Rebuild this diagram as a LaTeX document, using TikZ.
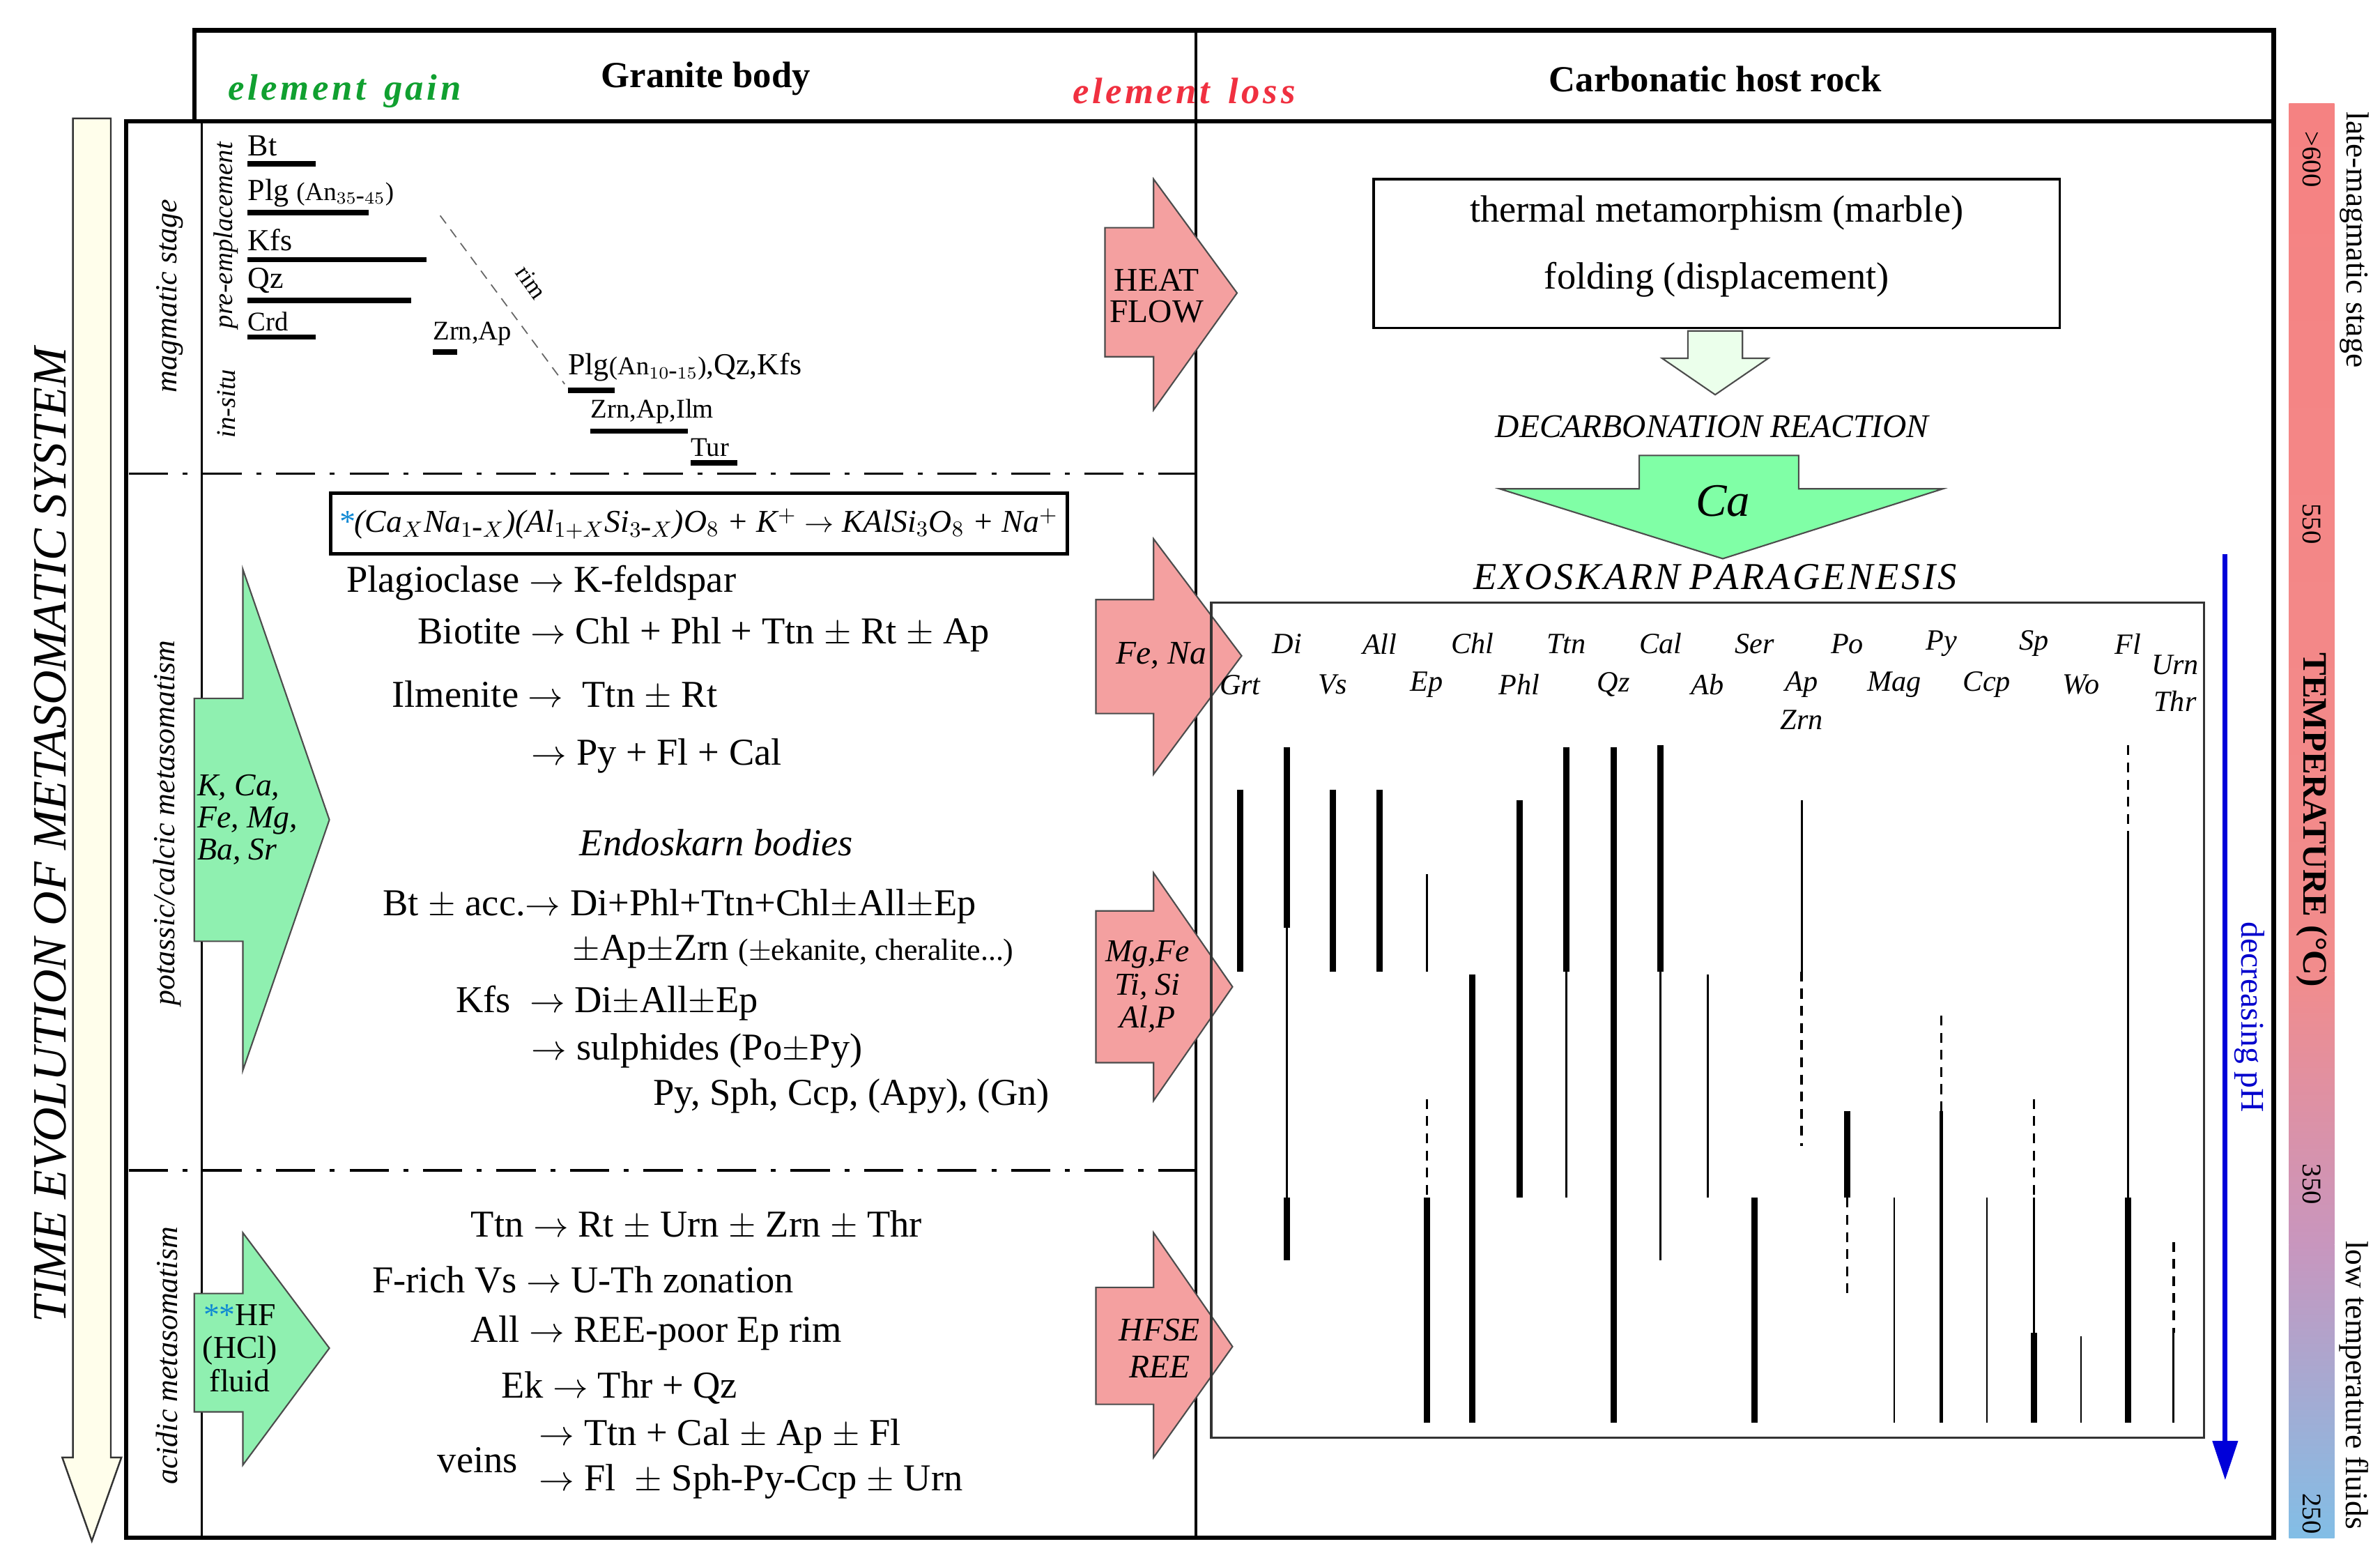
\documentclass[tikz,border=0pt]{standalone}
\usepackage{fontspec}
\setmainfont{Liberation Serif}
\usetikzlibrary{arrows.meta}
\definecolor{pinkf}{HTML}{F4A0A0}
\definecolor{greenf}{HTML}{8FF0B0}
\definecolor{gtxt}{HTML}{10A030}
\definecolor{rtxt}{HTML}{F03040}
\begin{document}
\begin{tikzpicture}[x=0.02178cm,y=-0.02178cm,
  txt/.style={anchor=west,inner sep=0,font=\fontsize{15.5}{17}\selectfont},
  lab/.style={inner sep=0,font=\fontsize{12}{13}\selectfont\itshape},
  mg/.style={anchor=west,inner sep=0,font=\fontsize{12.5}{13}\selectfont},
  bar/.style={line width=2.2pt},
  tk/.style={line width=2.6pt},
  tn/.style={line width=0.8pt},
  dsh/.style={line width=1pt,dash pattern=on 4pt off 3pt},
  pk/.style={draw=black!70,fill=pinkf,line width=0.6pt},
  gr/.style={draw=black!70,fill=greenf,line width=0.6pt},
  sep/.style={line width=1pt,dash pattern=on 16pt off 6pt on 2pt off 6pt}]
\useasboundingbox (0,0) rectangle (1568,1032);
% frames
\draw[line width=1.8pt] (128,80) -- (128,20) -- (1498,20) -- (1498,1013) -- (83,1013) -- (83,80) -- (1498,80);
\draw[line width=1pt] (133,80) -- (133,1013);
\draw[line width=1pt] (788,20) -- (788,1013);
\draw[sep] (85,312) -- (788,312);
\draw[sep] (85,771) -- (788,771);
% header
\node[font=\fontsize{15}{16}\selectfont\bfseries\itshape,text=gtxt] (eg) at (227,60) {e\hspace{1.3pt}l\hspace{1.3pt}e\hspace{1.3pt}m\hspace{1.3pt}e\hspace{1.3pt}n\hspace{1.3pt}t\ \ g\hspace{1.3pt}a\hspace{1.3pt}i\hspace{1.3pt}n};
\node[font=\fontsize{15}{16}\selectfont\bfseries] (gb) at (465,52) {Granite body};
\node[font=\fontsize{15}{16}\selectfont\bfseries\itshape,text=rtxt] (el) at (780,60) {e\hspace{1.3pt}l\hspace{1.3pt}e\hspace{1.3pt}m\hspace{1.3pt}e\hspace{1.3pt}n\hspace{1.3pt}t\ \ l\hspace{1.3pt}o\hspace{1.3pt}s\hspace{1.3pt}s};
\node[font=\fontsize{15}{16}\selectfont\bfseries] (ch) at (1130,52) {Carbonatic host rock};
% time arrow
\draw[fill=yellow!8,draw=black!80,line width=0.7pt] (48,78) -- (73,78) -- (73,960) -- (80,960) -- (60.5,1015) -- (41,960) -- (48,960) -- cycle;
\node[rotate=90,font=\fontsize{19.5}{20}\selectfont\itshape] (te) at (33,550) {TIME EVOLUTION OF  METASOMATIC SYSTEM};
% stage labels
\node[rotate=90,font=\fontsize{12.5}{13}\selectfont\itshape] (ms) at (112,195) {magmatic stage};
\node[rotate=90,font=\fontsize{12.5}{13}\selectfont\itshape] (pc) at (110,542) {potassic/calcic metasomatism};
\node[rotate=90,font=\fontsize{12.5}{13}\selectfont\itshape] (am) at (110,893) {acidic metasomatism};
\node[rotate=90,inner sep=0,font=\fontsize{11}{12}\selectfont\itshape] (pe) at (149,155) {pre-emplacement};
\node[rotate=90,inner sep=0,font=\fontsize{11}{12}\selectfont\itshape] (is) at (149,266) {in-situ};
% magmatic bars
\node[mg] (bt) at (163,96) {Bt};
\draw[bar] (163,108) -- (208,108);
\node[mg] (plg) at (163,127) {Plg {\fontsize{10.5}{12}\selectfont(An$_{35\mbox{-}45}$)}};
\draw[bar] (163,140) -- (243,140);
\node[mg] (kfs) at (163,158) {Kfs};
\draw[bar] (163,171) -- (281,171);
\node[mg] (qz) at (163,185) {Qz};
\draw[bar] (163,198) -- (271,198);
\node[mg,font=\fontsize{11}{12}\selectfont] (crd) at (163,212) {Crd};
\draw[bar] (163,222) -- (208,222);
\node[mg,font=\fontsize{11}{12}\selectfont] (za) at (285,220) {Zrn,Ap};
\draw[bar] (285,232) -- (301,232);
\node[mg] (plg2) at (374,242) {Plg{\fontsize{10.5}{12}\selectfont(An$_{10\mbox{-}15}$)},Qz,Kfs};
\draw[bar] (374,257) -- (405,257);
\node[mg,font=\fontsize{11}{12}\selectfont] (zai) at (389,271) {Zrn,Ap,Ilm};
\draw[bar] (389,284) -- (453,284);
\node[mg,font=\fontsize{11}{12}\selectfont] (tur) at (455,295) {Tur};
\draw[bar] (455,305) -- (486,305);
\coordinate (r1) at (290,142); \coordinate (r2) at (372,253);
\draw[dash pattern=on 4pt off 3pt,line width=0.5pt,black!60] (r1) -- (r2);
\node[rotate=-55,inner sep=0,font=\fontsize{10}{11}\selectfont] (rim) at (350,186) {rim};
% red arrows
\draw[pk] (728,150) -- (760,150) -- (760,118) -- (815,193) -- (760,270) -- (760,235) -- (728,235) -- cycle;
\node[font=\fontsize{13.5}{15}\selectfont,align=center] (hf) at (762,195) {HEAT\\[-2pt]FLOW};
\draw[pk] (722,395) -- (760,395) -- (760,355) -- (818,432) -- (760,510) -- (760,470) -- (722,470) -- cycle;
\node[font=\fontsize{13.5}{15}\selectfont\itshape] (fena) at (765,432) {Fe, Na};
\draw[pk] (722,600) -- (760,600) -- (760,575) -- (812,650) -- (760,725) -- (760,700) -- (722,700) -- cycle;
\node[font=\fontsize{13}{13.5}\selectfont\itshape,align=center] (mgfe) at (756,650) {Mg,Fe\\Ti, Si\\Al,P};
\draw[pk] (722,848) -- (760,848) -- (760,812) -- (812,887) -- (760,960) -- (760,925) -- (722,925) -- cycle;
\node[font=\fontsize{13.5}{15}\selectfont\itshape,align=center] (hfse) at (764,888) {HFSE\\REE};
% green arrows
\draw[gr] (128,460) -- (160,460) -- (160,375) -- (217,540) -- (160,705) -- (160,620) -- (128,620) -- cycle;
\node[font=\fontsize{13}{13}\selectfont\itshape,align=left] (kca) at (163,540) {K, Ca,\\Fe, Mg,\\Ba, Sr};
\draw[gr] (128,852) -- (160,852) -- (160,812) -- (217,888) -- (160,965) -- (160,930) -- (128,930) -- cycle;
\node[font=\fontsize{13}{13.5}\selectfont,align=center] (hfl) at (158,888) {\textcolor{cyan!70!blue}{**}HF\\(HCl)\\fluid};
% equation box
\draw[line width=1.4pt] (218,325) rectangle (703,365);
\node[inner sep=0,font=\fontsize{13}{15}\selectfont\itshape] (eq) at (460,345) {\textcolor{cyan!70!blue}{*}(Ca$_X$Na$_{1\mbox{-}X}$)(Al$_{1+X}$Si$_{3\mbox{-}X}$)O$_8$ + K$^+$ $\rightarrow$ KAlSi$_3$O$_8$ + Na$^+$};
% text lines
\node[txt] (t1) at (228,384) {Plagioclase $\rightarrow$ K-feldspar};
\node[txt] (t2) at (275,418) {Biotite $\rightarrow$ Chl + Phl + Ttn $\pm$ Rt $\pm$ Ap};
\node[txt] (t3) at (258,458) {Ilmenite $\rightarrow$\ \ Ttn $\pm$ Rt};
\node[txt] (t4) at (350,498) {$\rightarrow$ Py + Fl + Cal};
\node[font=\fontsize{15.5}{17}\selectfont\itshape] (t5) at (472,555) {Endoskarn bodies};
\node[txt] (t6) at (252,597) {Bt $\pm$ acc.$\rightarrow$ Di+Phl+Ttn+Chl$\pm$All$\pm$Ep};
\node[txt] (t7) at (377,627) {$\pm$Ap$\pm$Zrn {\fontsize{12.5}{13}\selectfont($\pm$ekanite, cheralite...)}};
\node[txt] (t8) at (300,661) {Kfs\ \ $\rightarrow$ Di$\pm$All$\pm$Ep};
\node[txt] (t9) at (350,692) {$\rightarrow$ sulphides (Po$\pm$Py)};
\node[txt] (t10) at (430,722) {Py, Sph, Ccp, (Apy), (Gn)};
\node[txt] (t11) at (310,807) {Ttn $\rightarrow$ Rt $\pm$ Urn $\pm$ Zrn $\pm$ Thr};
\node[txt] (t12) at (245,843) {F-rich Vs $\rightarrow$ U-Th zonation};
\node[txt] (t13) at (310,878) {All $\rightarrow$ REE-poor Ep rim};
\node[txt] (t14) at (330,914) {Ek $\rightarrow$ Thr + Qz};
\node[txt] (t15) at (288,962) {veins};
\node[txt] (t16) at (355,946) {$\rightarrow$ Ttn + Cal $\pm$ Ap $\pm$ Fl};
\node[txt] (t17) at (355,976) {$\rightarrow$ Fl\ \ $\pm$ Sph-Py-Ccp $\pm$ Urn};
% right top
\draw[line width=1pt] (905,118) rectangle (1357,216);
\node[font=\fontsize{15.5}{17}\selectfont] (tm) at (1131,140) {thermal metamorphism (marble)};
\node[font=\fontsize{15.5}{17}\selectfont] (fd) at (1131,184) {folding (displacement)};
\draw[draw=black!70,fill=green!8,line width=0.6pt] (1112,218) -- (1148,218) -- (1148,236) -- (1165,236) -- (1130,260) -- (1095,236) -- (1112,236) -- cycle;
\node[font=\fontsize{13.5}{15}\selectfont\itshape] (dr) at (1128,281) {DECARBONATION REACTION};
\draw[gr,fill=green!70!cyan!50] (1080,300) -- (1185,300) -- (1185,322) -- (1280,322) -- (1135,368) -- (988,322) -- (1080,322) -- cycle;
\node[font=\fontsize{19}{20}\selectfont\itshape] (ca) at (1135,330) {Ca};
\node[font=\fontsize{15.5}{17}\selectfont\itshape] (ex) at (1130,380) {E\hspace{1pt}X\hspace{1pt}O\hspace{1pt}S\hspace{1pt}K\hspace{1pt}A\hspace{1pt}R\hspace{1pt}N\ P\hspace{1pt}A\hspace{1pt}R\hspace{1pt}A\hspace{1pt}G\hspace{1pt}E\hspace{1pt}N\hspace{1pt}E\hspace{1pt}S\hspace{1pt}I\hspace{1pt}S};
% chart
\draw[line width=1pt,black!80] (798,397) rectangle (1452,947);
\foreach \n/\x in {Di/848,All/909,Chl/970,Ttn/1032,Cal/1094,Ser/1156,Po/1217,Py/1279,Sp/1340,Fl/1402}
  \node[lab] (l\n) at (\x,424) {\n};
\foreach \n/\x in {Grt/817,Vs/878,Ep/940,Phl/1001,Qz/1063,Ab/1125,Ap/1187,Mag/1248,Ccp/1309,Wo/1371}
  \node[lab] (l\n) at (\x,451) {\n};
\node[lab] (lZrn) at (1187,474) {Zrn};
\node[lab] (lUrn) at (1433,438) {Urn};
\node[lab] (lThr) at (1433,462) {Thr};
% bars
\draw[tk] (817,520) -- (817,640);
\draw[tk] (848,492) -- (848,611); \draw[tn] (848,611) -- (848,789); \draw[tk] (848,789) -- (848,830);
\draw[tk] (878,520) -- (878,640);
\draw[tk] (909,520) -- (909,640);
\draw[tn] (940,576) -- (940,640); \draw[dsh] (940,724) -- (940,789); \draw[tk] (940,789) -- (940,937);
\draw[tk] (970,642) -- (970,937);
\draw[tk] (1001,527) -- (1001,789);
\draw[tk] (1032,492) -- (1032,640); \draw[tn] (1032,640) -- (1032,789);
\draw[tk] (1063,492) -- (1063,937);
\draw[tk] (1094,491) -- (1094,640); \draw[tn] (1094,640) -- (1094,830);
\draw[tn] (1125,642) -- (1125,789);
\draw[tk] (1156,789) -- (1156,937);
\draw[tn] (1187,527) -- (1187,640); \draw[dsh] (1187,640) -- (1187,755);
\draw[tk] (1217,732) -- (1217,789); \draw[dsh] (1217,789) -- (1217,854);
\draw[tn] (1248,789) -- (1248,937);
\draw[dsh] (1279,669) -- (1279,732); \draw[line width=1.3pt] (1279,732) -- (1279,937);
\draw[tn] (1309,789) -- (1309,937);
\draw[dsh] (1340,724) -- (1340,789); \draw[tn] (1340,789) -- (1340,878); \draw[tk] (1340,878) -- (1340,937);
\draw[tn] (1371,880) -- (1371,937);
\draw[dsh] (1402,491) -- (1402,549); \draw[tn] (1402,549) -- (1402,789); \draw[tk] (1402,789) -- (1402,937);
\draw[dsh] (1432,818) -- (1432,878); \draw[tn] (1432,878) -- (1432,937);
% pH arrow
\coordinate (ph1) at (1466,365); \coordinate (ph2) at (1466,975);
\draw[blue!85!black,line width=2pt,-{Triangle[length=16pt,width=10pt]}] (ph1) -- (ph2);
\node[rotate=-90,text=blue!80!black,font=\fontsize{13.5}{15}\selectfont] (phl) at (1482,670) {decreasing pH};
% temperature bar
\shade[top color={rgb,255:red,245;green,130;blue,130},bottom color={rgb,255:red,242;green,140;blue,140}] (1508,68) rectangle (1538,640);
\shade[top color={rgb,255:red,242;green,140;blue,140},bottom color={rgb,255:red,200;green,150;blue,190}] (1508,640) rectangle (1538,820);
\shade[top color={rgb,255:red,200;green,150;blue,190},bottom color={rgb,255:red,130;green,190;blue,230}] (1508,820) rectangle (1538,1013);
\node[rotate=-90,font=\fontsize{11}{12}\selectfont] (t600) at (1523,105) {>600};
\node[rotate=-90,font=\fontsize{11}{12}\selectfont] (t550) at (1523,345) {550};
\node[rotate=-90,font=\fontsize{14}{15}\selectfont\bfseries] (tt) at (1523,540) {TEMPERATURE (°C)};
\node[rotate=-90,font=\fontsize{11}{12}\selectfont] (t350) at (1523,780) {350};
\node[rotate=-90,font=\fontsize{11}{12}\selectfont] (t250) at (1523,997) {250};
\node[rotate=-90,font=\fontsize{13}{14}\selectfont,anchor=west] (lms) at (1551,68) {late-magmatic stage};
\node[rotate=-90,font=\fontsize{13}{14}\selectfont,anchor=east] (ltf) at (1551,1013) {low temperature fluids};
\end{tikzpicture}
\end{document}
